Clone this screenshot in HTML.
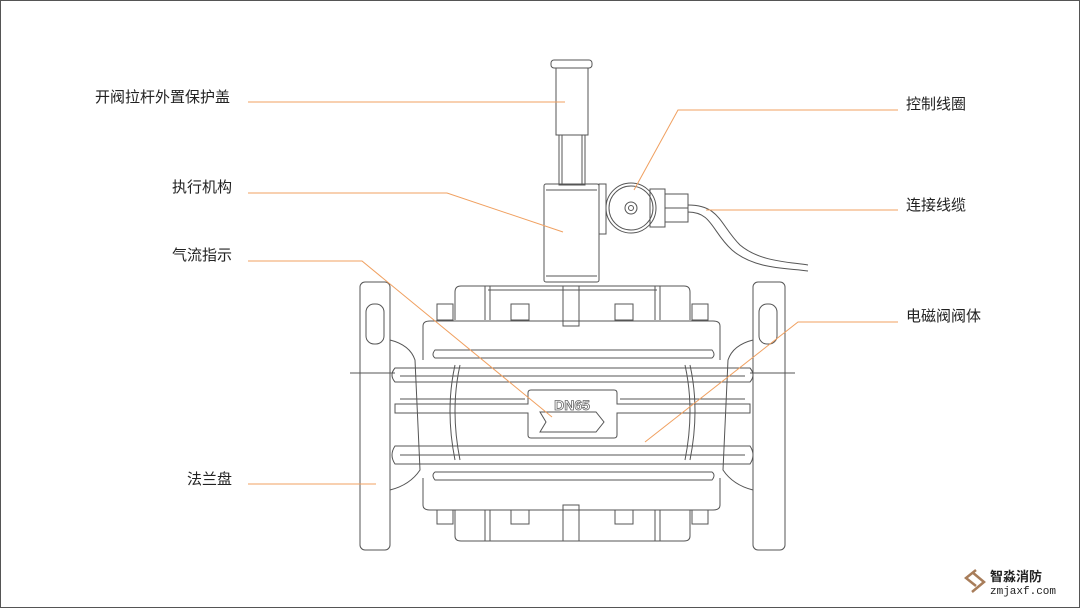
<!DOCTYPE html>
<html><head><meta charset="utf-8"><style>
html,body{margin:0;padding:0;background:#fff}
.w{position:relative;width:1078px;height:606px;border:1px solid #555;overflow:hidden;font-family:"Liberation Sans","Noto Sans CJK SC",sans-serif}
.l{position:absolute;font-size:15px;color:#222;line-height:18px}
</style></head><body><div class="w">
<svg width="1078" height="606" viewBox="1 1 1078 606" style="position:absolute;left:0;top:0">
<g fill="none" stroke="#555" stroke-width="1">
<rect x="551" y="60" width="41" height="8" rx="3"/>
<rect x="556" y="68" width="32" height="67"/>
<rect x="559" y="135" width="26" height="50"/>
<line x1="562" y1="135" x2="562" y2="185"/><line x1="582" y1="135" x2="582" y2="185"/>
<rect x="544" y="184" width="55" height="98" rx="2"/>
<line x1="546" y1="190" x2="597" y2="190"/><line x1="546" y1="276" x2="597" y2="276"/>
<rect x="599" y="184" width="7" height="50"/>
<circle cx="631" cy="208" r="25"/><circle cx="631" cy="208" r="22"/>
<circle cx="631" cy="208" r="6"/><circle cx="631" cy="208" r="2.5"/>
<rect x="650" y="189" width="15" height="38"/>
<rect x="665" y="194" width="23" height="28"/><line x1="665" y1="208" x2="688" y2="208"/>
<path d="M688 205 C720 205,720 225,740 245 C760 262,790 262,808 265"/>
<path d="M688 212 C712 212,712 232,732 250 C755 270,790 268,808 271"/>
<rect x="360" y="282" width="30" height="268" rx="5"/>
<rect x="753" y="282" width="32" height="268" rx="5"/>
<rect x="366" y="304" width="18" height="40" rx="8"/>
<rect x="759" y="304" width="18" height="40" rx="8"/>
<line x1="350" y1="373" x2="395" y2="373"/><line x1="750" y1="373" x2="795" y2="373"/>
<path d="M455 320 L455 292 Q455 286 461 286 L684 286 Q690 286 690 292 L690 320"/>
<path d="M488 290 L657 290"/>
<rect x="437" y="304" width="16" height="16"/><rect x="692" y="304" width="16" height="16"/>
<rect x="511" y="304" width="18" height="16"/><rect x="615" y="304" width="18" height="16"/>
<rect x="563" y="286" width="16" height="40"/>
<line x1="485" y1="286" x2="485" y2="320"/><line x1="660" y1="286" x2="660" y2="320"/>
<line x1="490" y1="286" x2="490" y2="320"/><line x1="655" y1="286" x2="655" y2="320"/>
<path d="M423 360 L423 326 Q423 321 430 321 L713 321 Q720 321 720 326 L720 360"/>
<path d="M435 350 L712 350 Q716 355 712 358 L435 358 Q431 355 435 350Z"/>
<path d="M395 368 L750 368 Q756 375 750 382 L395 382 Q389 375 395 368Z"/>
<line x1="400" y1="376" x2="745" y2="376"/>
<path d="M395 404 L528 404 L528 393 Q528 390 531 390 L614 390 Q617 390 617 393 L617 404 L750 404 L750 413 L617 413 L617 435 Q617 438 614 438 L531 438 Q528 438 528 435 L528 413 L395 413Z"/>
<line x1="400" y1="399" x2="525" y2="399"/><line x1="620" y1="399" x2="745" y2="399"/>
<path d="M395 446 L750 446 Q756 455 750 464 L395 464 Q389 455 395 446Z"/>
<line x1="400" y1="455" x2="745" y2="455"/>
<path d="M435 472 L712 472 Q716 475 712 480 L435 480 Q431 475 435 472Z"/>
<path d="M423 478 L423 505 Q423 510 430 510 L713 510 Q720 510 720 505 L720 478"/>
<path d="M455 510 L455 536 Q455 541 461 541 L684 541 Q690 541 690 536 L690 510"/>
<rect x="437" y="510" width="16" height="14"/><rect x="692" y="510" width="16" height="14"/>
<rect x="511" y="510" width="18" height="14"/><rect x="615" y="510" width="18" height="14"/>
<rect x="563" y="505" width="16" height="36"/>
<line x1="485" y1="510" x2="485" y2="541"/><line x1="660" y1="510" x2="660" y2="541"/>
<line x1="490" y1="510" x2="490" y2="541"/><line x1="655" y1="510" x2="655" y2="541"/>
<path d="M390 340 Q410 345 415 360 L420 470 Q410 485 390 490"/>
<path d="M753 340 Q733 345 728 360 L723 470 Q733 485 753 490"/>
<path d="M455 365 Q445 410 455 460"/><path d="M690 365 Q700 410 690 460"/>
<path d="M460 365 Q450 410 460 460"/><path d="M685 365 Q695 410 685 460"/>
<path d="M540 412 L596 412 L604 422 L596 432 L540 432 L546 422Z"/>
</g>
<text x="572" y="410" font-size="14" font-weight="bold" fill="#fff" stroke="#666" stroke-width="0.8" text-anchor="middle" font-family="Liberation Sans,sans-serif">DN65</text>
<g fill="none" stroke="#f0a060" stroke-width="1">
<polyline points="248,102 565,102"/>
<polyline points="248,193 447,193 563,232"/>
<polyline points="248,261 362,261 552,417"/>
<polyline points="248,484 376,484"/>
<polyline points="898,110 678,110 634,190"/>
<polyline points="898,210 706,210"/>
<polyline points="898,322 798,322 645,442"/>
</g>
<path d="M976 586 L966 578 L976 570 M972 592 L984 582 L972 572" stroke="#a87d5a" stroke-width="2.5" fill="none"/>
</svg>
<div class="l" style="left:94px;top:88px">开阀拉杆外置保护盖</div>
<div class="l" style="left:171px;top:178px">执行机构</div>
<div class="l" style="left:171px;top:246px">气流指示</div>
<div class="l" style="left:186px;top:470px">法兰盘</div>
<div class="l" style="left:905px;top:95px">控制线圈</div>
<div class="l" style="left:905px;top:196px">连接线缆</div>
<div class="l" style="left:905px;top:307px">电磁阀阀体</div>
<div class="l" style="left:989px;top:569px;font-size:13px;font-weight:bold;line-height:14px">智淼消防</div>
<div class="l" style="left:989px;top:585px;font-size:11px;font-family:'Liberation Mono',monospace;line-height:12px">zmjaxf.com</div>
</div></body></html>
